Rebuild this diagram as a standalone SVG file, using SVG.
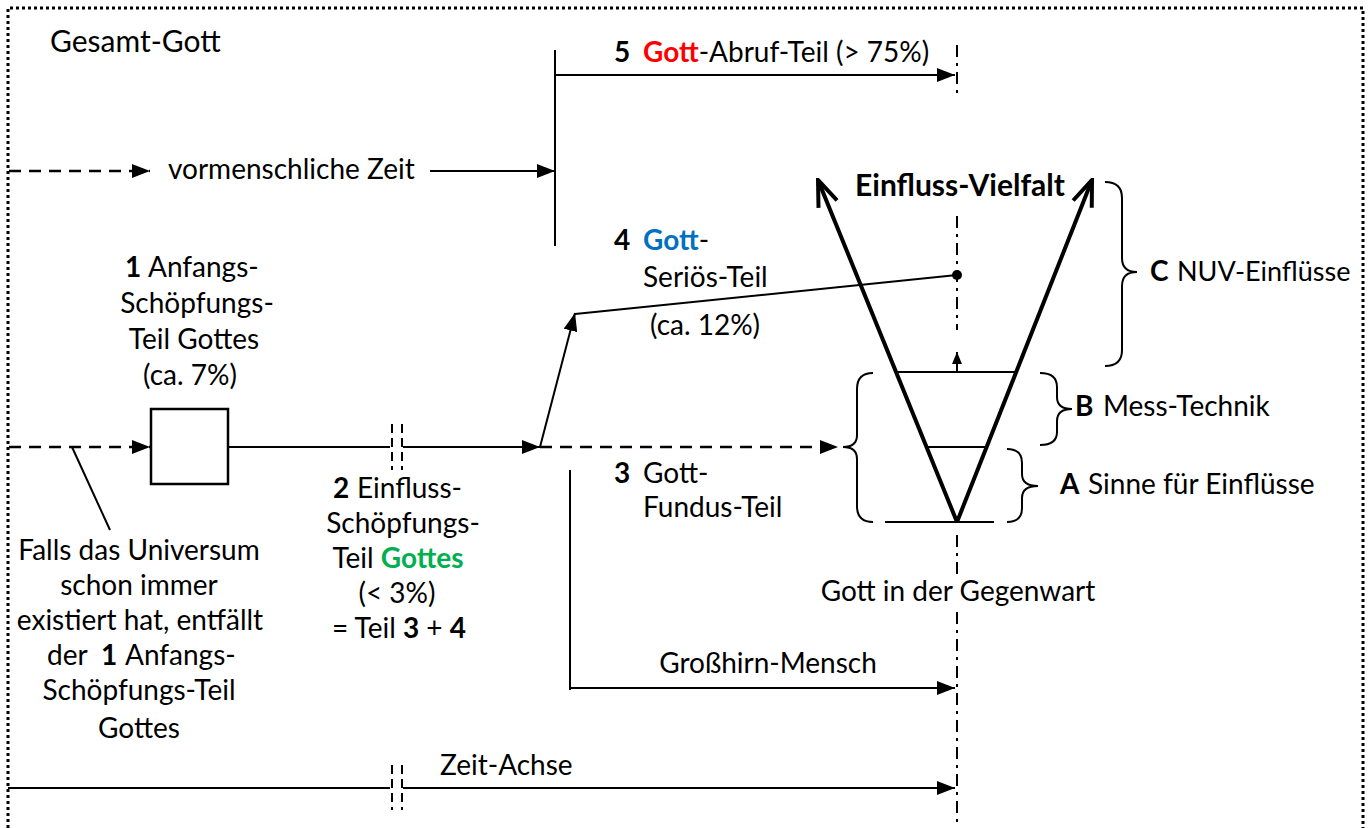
<svg xmlns="http://www.w3.org/2000/svg" width="1371" height="828" viewBox="0 0 1371 828">
<style>
text{font-family:Lato,"Open Sans","Liberation Sans",sans-serif;font-size:28px;fill:#000}
.b{font-weight:bold}
.ln{stroke:#000;stroke-width:2;fill:none}
.dash{stroke:#000;stroke-width:2.5;fill:none;stroke-dasharray:12 8}
.dd{stroke:#000;stroke-width:2;fill:none;stroke-dasharray:12 6 3 6}
.brk{stroke:#000;stroke-width:2;fill:none;stroke-dasharray:9 5}
.thick{stroke:#000;stroke-width:4;fill:none}
.br{stroke:#000;stroke-width:2;fill:none}
</style>
<defs>
<marker id="ah" viewBox="0 0 18 14" refX="18" refY="7" markerWidth="18" markerHeight="14" markerUnits="userSpaceOnUse" orient="auto"><path d="M0,0 L18,7 L0,14 Z" fill="#000"/></marker>
<marker id="ahs" viewBox="0 0 12 10" refX="12" refY="5" markerWidth="12" markerHeight="10" markerUnits="userSpaceOnUse" orient="auto"><path d="M0,0 L12,5 L0,10 Z" fill="#000"/></marker>
<marker id="open" viewBox="-2 -12 32 24" refX="28" refY="0" markerWidth="32" markerHeight="24" markerUnits="userSpaceOnUse" orient="auto"><path d="M2,-10 L28,0 L2,10" fill="none" stroke="#000" stroke-width="4" stroke-linejoin="miter"/></marker>
</defs>
<rect width="1371" height="828" fill="#fff"/>
<path d="M8,840 L8,8 L1363,8 L1363,840" fill="none" stroke="#000" stroke-width="3" stroke-dasharray="3 3"/>
<g id="connectors">
<line class="dd" x1="957" y1="45" x2="957" y2="95"/>
<line class="dd" x1="957" y1="216" x2="957" y2="330"/>
<line class="dd" x1="957" y1="535" x2="957" y2="575"/>
<line class="dd" x1="957" y1="612" x2="957" y2="828"/>
<line class="ln" x1="555" y1="50" x2="555" y2="246"/>
<line class="ln" x1="555" y1="75" x2="955" y2="75" marker-end="url(#ah)"/>
<line class="dash" x1="9" y1="171" x2="150" y2="171" marker-end="url(#ah)"/>
<line class="ln" x1="430" y1="171" x2="555" y2="171" marker-end="url(#ah)"/>
<line class="dash" x1="9" y1="447" x2="150" y2="447" marker-end="url(#ah)"/>
<line class="ln" x1="72" y1="447" x2="110" y2="530"/>
<line class="ln" x1="228" y1="447" x2="390" y2="447"/>
<line class="brk" x1="392" y1="424" x2="392" y2="470"/>
<line class="brk" x1="402" y1="424" x2="402" y2="470"/>
<line class="ln" x1="403" y1="447" x2="540" y2="447" marker-end="url(#ah)"/>
<line class="dash" x1="540" y1="447" x2="838" y2="447" marker-end="url(#ah)"/>
<line class="ln" x1="540" y1="447" x2="575" y2="313" marker-end="url(#ah)"/>
<line class="ln" x1="575" y1="314" x2="957" y2="275"/>
<circle cx="957" cy="275" r="5" fill="#000"/>
<line class="ln" x1="570" y1="470" x2="570" y2="690"/>
<line class="ln" x1="570" y1="688" x2="955" y2="688" marker-end="url(#ah)"/>
<line class="ln" x1="8" y1="788" x2="390" y2="788" stroke-width="2.5"/>
<line class="brk" x1="392" y1="765" x2="392" y2="810"/>
<line class="brk" x1="402" y1="765" x2="402" y2="810"/>
<line class="ln" x1="403" y1="788" x2="955" y2="788" stroke-width="2.5" marker-end="url(#ah)"/>
</g>
<g id="node-box1"><rect x="151" y="409" width="77" height="75" fill="#fff" stroke="#000" stroke-width="2.5"/></g>
<g id="node-v">
<line class="thick" x1="957" y1="522" x2="818" y2="180" marker-end="url(#open)"/>
<line class="thick" x1="957" y1="522" x2="1092" y2="180" marker-end="url(#open)"/>
<line class="ln" x1="895" y1="372" x2="1018" y2="372" stroke-width="2.5"/>
<line class="ln" x1="926" y1="447" x2="987" y2="447" stroke-width="2.5"/>
<line class="ln" x1="885" y1="522" x2="994" y2="522" stroke-width="2.5"/>
<line class="ln" x1="957" y1="372" x2="957" y2="352" marker-end="url(#ahs)"/>
</g>
<g id="braces">
<path class="br" d="M873,373 Q857,373 857,389 L857,435 Q857,447 843,447 Q857,447 857,459 L857,506 Q857,522 873,522"/>
<path class="br" d="M1040,373 Q1057,373 1057,387 L1057,397 Q1057,409 1072,409 Q1057,409 1057,421 L1057,432 Q1057,445 1040,445"/>
<path class="br" d="M1007,449 Q1022,449 1022,463 L1022,474 Q1022,486 1038,486 Q1022,486 1022,498 L1022,508 Q1022,522 1007,522"/>
<path class="br" d="M1105,182 Q1122,182 1122,198 L1122,258 Q1122,272 1137,272 Q1122,272 1122,286 L1122,350 Q1122,366 1105,366"/>
</g>
<g id="labels">
<text x="50" y="52" style="font-size:30px">Gesamt-Gott</text>
<text x="614" y="62" class="b">5</text>
<text x="643" y="62"><tspan class="b" fill="#ff0000">Gott</tspan>-Abruf-Teil (&gt; 75%)</text>
<text x="168" y="179">vormenschliche Zeit</text>
<text x="960" y="196" text-anchor="middle" class="b" style="font-size:30px">Einfluss-Vielfalt</text>
<text x="614" y="250" class="b">4</text>
<text x="643" y="250"><tspan class="b" fill="#0070c0">Gott</tspan>-</text>
<text x="643" y="287">Seriös-Teil</text>
<text x="650" y="335">(ca. 12%)</text>
<text x="125" y="277" class="b">1</text>
<text x="148" y="277">Anfangs-</text>
<text x="197" y="313" text-anchor="middle">Schöpfungs-</text>
<text x="194" y="349" text-anchor="middle">Teil Gottes</text>
<text x="190" y="385" text-anchor="middle">(ca. 7%)</text>
<text x="1150" y="281" class="b">C</text>
<text x="1177" y="281" style="font-size:27px">NUV-Einflüsse</text>
<text x="1075" y="416" class="b">B</text>
<text x="1103" y="416">Mess-Technik</text>
<text x="1060" y="494" class="b">A</text>
<text x="1088" y="494">Sinne für Einflüsse</text>
<text x="614" y="483" class="b">3</text>
<text x="643" y="483">Gott-</text>
<text x="643" y="517">Fundus-Teil</text>
<text x="333" y="498" class="b">2</text>
<text x="357" y="498">Einfluss-</text>
<text x="403" y="533" text-anchor="middle">Schöpfungs-</text>
<text x="398" y="568" text-anchor="middle">Teil <tspan class="b" fill="#00b050">Gottes</tspan></text>
<text x="397" y="603" text-anchor="middle">(&lt; 3%)</text>
<text x="399" y="638" text-anchor="middle">= Teil <tspan class="b">3</tspan> + <tspan class="b">4</tspan></text>
<text x="139" y="560" text-anchor="middle">Falls das Universum</text>
<text x="139" y="595" text-anchor="middle">schon immer</text>
<text x="140" y="630" text-anchor="middle">existiert hat, entfällt</text>
<text x="47" y="665">der</text>
<text x="101" y="665" class="b">1</text>
<text x="125" y="665">Anfangs-</text>
<text x="139" y="700" text-anchor="middle">Schöpfungs-Teil</text>
<text x="139" y="738" text-anchor="middle">Gottes</text>
<text x="958" y="601" text-anchor="middle">Gott in der Gegenwart</text>
<text x="768" y="673" text-anchor="middle">Großhirn-Mensch</text>
<text x="440" y="775">Zeit-Achse</text>
</g>
</svg>
